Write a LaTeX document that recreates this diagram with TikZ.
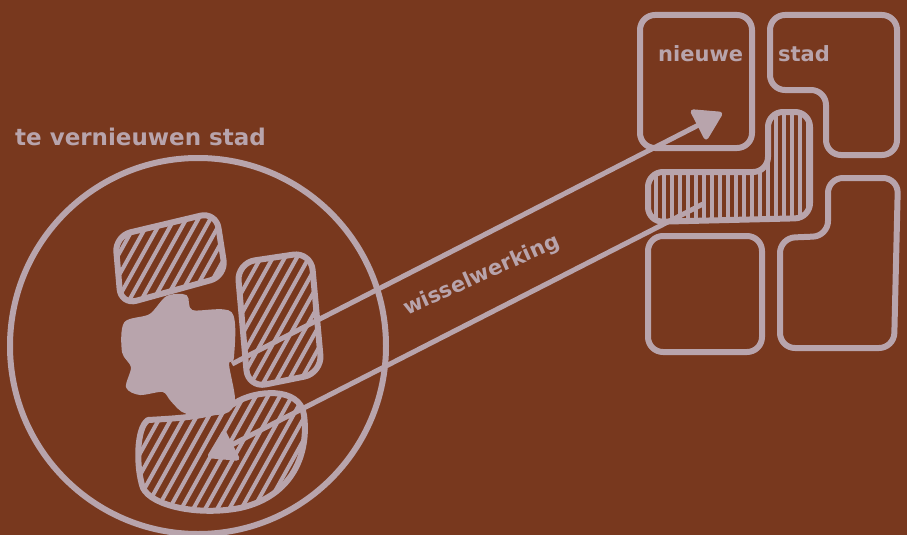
\documentclass[tikz,border=0pt]{standalone}
\usepackage{fontspec}
\setmainfont{DejaVu Sans}
\usetikzlibrary{arrows.meta}
\definecolor{paper}{RGB}{120,56,30}
\definecolor{chalk}{RGB}{184,164,172}
\tikzset{
  outline/.style={
    draw=chalk,
    line width=6pt,
    line join=round,
    rounded corners=15pt
  },
  hatchline/.style={
    draw=chalk,
    line width=4pt
  },
  blob/.style={
    fill=chalk,
    draw=chalk,
    line width=2pt
  },
  flow/.style={
    draw=chalk,
    line width=5pt,
    -{Triangle[length=30pt, width=36pt, round]}
  },
  handtext/.style={
    text=chalk,
    inner sep=0pt,
    font=\bfseries\fontsize{21}{25}\selectfont
  }
}

\begin{document}
\begin{tikzpicture}[x=1pt, y=-1pt]

  %% ---- achtergrond ----
  \fill[paper] (0,0) rectangle (907,535);
  \useasboundingbox (0,0) rectangle (907,535);

  %% ---- te vernieuwen stad (cirkel) ----
  \draw[outline] (198,346) circle[radius=188];
  \node[handtext, anchor=base west, font=\bfseries\fontsize{23}{27}\selectfont]
      (oudtitel) at (15,145) {te vernieuwen stad};

  % grijze kern
  \path[blob] plot[smooth cycle, tension=0.5] coordinates {
      (167,297) (186,296) (192,311) (231,313) (233,357) (228,364)
      (234,400) (224,413) (187,413) (172,401) (163,391) (140,394)
      (127,387) (132,367) (123,352) (125,323) (150,315)};

  % gearceerde vlakken links
  \begin{scope}
    \clip[rounded corners=16pt] (115,236) -- (216,212) -- (226,276) -- (121,305) -- cycle;
    \foreach \x in {-100,-88,...,340}
      \draw[hatchline] (\x,540) -- ++(250,-450);
  \end{scope}
  \draw[outline, rounded corners=16pt] (115,236) -- (216,212) -- (226,276) -- (121,305) -- cycle;

  \begin{scope}
    \clip[rounded corners=18pt] (237,263) -- (311,252) -- (322,373) -- (248,388) -- cycle;
    \foreach \x in {-100,-88,...,340}
      \draw[hatchline] (\x,540) -- ++(250,-450);
  \end{scope}
  \draw[outline, rounded corners=18pt] (237,263) -- (311,252) -- (322,373) -- (248,388) -- cycle;

  \begin{scope}
    \clip (148,420) .. controls (185,418) and (215,416) .. (235,403)
        .. controls (255,390) and (300,386) .. (304,415)
        .. controls (309,452) and (294,496) .. (240,508)
        .. controls (198,516) and (152,506) .. (143,488)
        .. controls (136,468) and (136,428) .. (148,420) -- cycle;
    \foreach \x in {-100,-88,...,340}
      \draw[hatchline] (\x,540) -- ++(250,-450);
  \end{scope}
  \draw[outline, rounded corners=0pt] (148,420) .. controls (185,418) and (215,416) .. (235,403)
      .. controls (255,390) and (300,386) .. (304,415)
      .. controls (309,452) and (294,496) .. (240,508)
      .. controls (198,516) and (152,506) .. (143,488)
      .. controls (136,468) and (136,428) .. (148,420) -- cycle;

  %% ---- nieuwe stad (blokken rechts) ----
  \draw[outline] (640,15) rectangle (752,148);
  \draw[outline] (770,15) -- (897,15) -- (897,155) -- (826,155) -- (826,90) -- (770,90) -- cycle;
  \draw[outline] (648,236) rectangle (762,352);
  \draw[outline] (828,178) -- (898,178) -- (894,348) -- (780,348) -- (780,238) -- (828,236) -- cycle;

  % gearceerde L-vorm
  \begin{scope}
    \clip[rounded corners=15pt] (768,112) -- (810,112) -- (810,218) -- (648,222) -- (648,172) -- (768,172) -- cycle;
    \foreach \x in {640,648,...,816}
      \draw[hatchline, line width=3.5pt] (\x,100) -- (\x,230);
  \end{scope}
  \draw[outline] (768,112) -- (810,112) -- (810,218) -- (648,222) -- (648,172) -- (768,172) -- cycle;

  \node[handtext, anchor=base west] (nieuw) at (658,62) {nieuwe};
  \node[handtext, anchor=base west] (stad) at (778,62) {stad};

  %% ---- wisselwerking (pijlen) ----
  \coordinate (heenbegin) at (232,364);
  \coordinate (heeneind)  at (722,113);
  \coordinate (terugbegin) at (703,204);
  \coordinate (terugeind)  at (208,457);
  \draw[flow] (heenbegin) -- (heeneind);
  \draw[flow] (terugbegin) -- (terugeind);
  \node[handtext, anchor=base, rotate=24] (wissel) at (484,281) {wisselwerking};

\end{tikzpicture}
\end{document}
